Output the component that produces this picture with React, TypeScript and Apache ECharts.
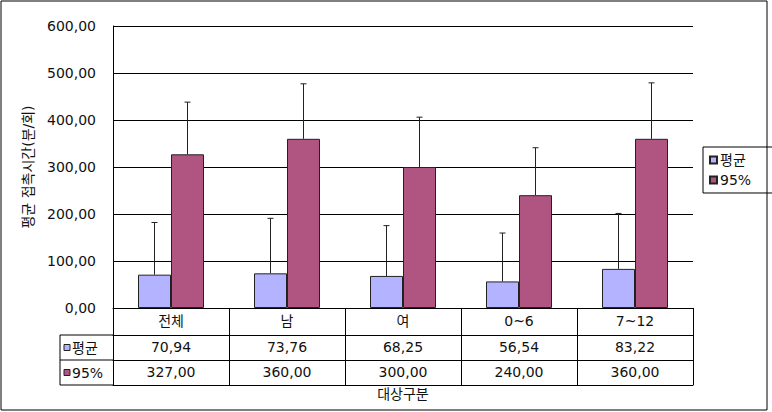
import { useEffect, useRef } from "react";
import * as echarts from "echarts";

const categories = ["전체", "남", "여", "0~6", "7~12"];
const seriesNames = ["평균", "95%"];
const meanValues = [70.94, 73.76, 68.25, 56.54, 83.22];
const p95Values = [327.0, 360.0, 300.0, 240.0, 360.0];
const meanErr = [111, 117, 107, 103, 118];
const p95Err = [111, 117, 106, 101, 119];
const yAxisTitle = "평균 접촉시간(분/회)";
const xAxisTitle = "대상구분";

const colors = ["#B3B3FF", "#B05482"];
const W = 772;
const H = 412;
const GL = 113;
const GR = 693;
const GT = 26;
const GB = 308;
const ROW1 = 27;
const ROW = 25;
const BAR_W = 33;
const FONT = "DejaVu Sans, 'Noto Sans CJK KR', sans-serif";

const fmt = (v: number) => v.toFixed(2).replace(".", ",");

export default function App() {
  const ref = useRef<HTMLDivElement>(null);
  useEffect(() => {
    if (!ref.current) return;
    const chart = echarts.init(ref.current, null, { renderer: "svg" });
    const valueRows = [meanValues, p95Values];
    const errRows = [meanErr, p95Err];

    const errSeries = valueRows.map((vals, si) => ({
      type: "custom",
      name: seriesNames[si] + "-err",
      xAxisIndex: 0,
      yAxisIndex: 0,
      z: 5,
      data: vals.map((v, i) => [i, v, errRows[si][i]]),
      renderItem: (params: any, api: any) => {
        const idx = api.value(0);
        const v = api.value(1);
        const e = api.value(2);
        const base = api.coord([idx, v]);
        const top = api.coord([idx, v + e]);
        const x = base[0] + (si === 0 ? -BAR_W / 2 : BAR_W / 2);
        const style = { stroke: "#222", lineWidth: 1 };
        return {
          type: "group",
          children: [
            { type: "line", shape: { x1: x, y1: base[1], x2: x, y2: top[1] }, style },
            { type: "line", shape: { x1: x - 3, y1: top[1], x2: x + 3, y2: top[1] }, style },
          ],
        };
      },
    }));

    const barSeries = valueRows.map((vals, si) => ({
      type: "bar",
      name: seriesNames[si],
      xAxisIndex: 0,
      yAxisIndex: 0,
      data: vals,
      barWidth: BAR_W,
      barGap: "0%",
      itemStyle: { color: colors[si], borderColor: "#222", borderWidth: 1 },
    }));

    const axisBase = {
      type: "category",
      position: "bottom",
      gridIndex: 0,
      boundaryGap: true,
      axisLine: { show: true, onZero: false, lineStyle: { color: "#000", width: 1 } },
      splitLine: { show: false },
    };

    const rowTop1 = GB + ROW1;
    const rowTop2 = rowTop1 + ROW;
    const rowBottom = rowTop2 + ROW;
    const hdrLeft = 60;

    const headerGraphics: any[] = [
      { type: "line", shape: { x1: hdrLeft, y1: rowTop1, x2: GL, y2: rowTop1 }, style: { stroke: "#000", lineWidth: 1 } },
      { type: "line", shape: { x1: hdrLeft, y1: rowTop2, x2: GL, y2: rowTop2 }, style: { stroke: "#000", lineWidth: 1 } },
      { type: "line", shape: { x1: hdrLeft, y1: rowBottom, x2: GL, y2: rowBottom }, style: { stroke: "#000", lineWidth: 1 } },
      { type: "line", shape: { x1: hdrLeft, y1: rowTop1, x2: hdrLeft, y2: rowBottom }, style: { stroke: "#000", lineWidth: 1 } },
    ];
    seriesNames.forEach((n, si) => {
      const cy = rowTop1 + ROW * si + ROW / 2;
      headerGraphics.push({
        type: "rect",
        shape: { x: 64, y: cy - 3, width: 6, height: 6 },
        style: { fill: colors[si], stroke: "#222", lineWidth: 1 },
      });
      headerGraphics.push({
        type: "text",
        x: 72,
        y: cy,
        style: { text: n, fill: "#111", font: `14px ${FONT}`, verticalAlign: "middle", align: "left" },
      });
    });
    headerGraphics.push({
      type: "rect",
      shape: { x: 1, y: 1, width: 766, height: 409 },
      style: { fill: "none", stroke: "#000", lineWidth: 1 },
      silent: true,
    });

    chart.setOption({
      animation: false,
      backgroundColor: "#fff",
      textStyle: { fontFamily: FONT },
      grid: { left: GL, right: W - GR, top: GT, bottom: H - GB, containLabel: false },
      legend: {
        data: seriesNames,
        orient: "vertical",
        left: 703,
        top: 147,
        borderColor: "#000",
        borderWidth: 1,
        borderRadius: 0,
        padding: [6, 24, 6, 6],
        itemGap: 6,
        itemWidth: 7,
        itemHeight: 7,
        icon: "rect",
        textStyle: { fontSize: 14, color: "#111", fontFamily: FONT, padding: [0, 0, 0, -2] },
      },
      xAxis: [
        {
          ...axisBase,
          data: categories,
          offset: 0,
          axisTick: { show: true, inside: false, length: ROW1, lineStyle: { color: "#000" } },
          axisLabel: { interval: 0, margin: 6, fontSize: 14, color: "#111", fontFamily: FONT },
        },
        {
          ...axisBase,
          data: meanValues.map(fmt),
          offset: ROW1,
          axisTick: { show: true, inside: false, length: ROW, lineStyle: { color: "#000" } },
          axisLabel: { interval: 0, margin: 5, fontSize: 14, color: "#111", fontFamily: FONT },
        },
        {
          ...axisBase,
          data: p95Values.map(fmt),
          offset: ROW1 + ROW,
          axisTick: { show: true, inside: false, length: ROW, lineStyle: { color: "#000" } },
          axisLabel: { interval: 0, margin: 5, fontSize: 14, color: "#111", fontFamily: FONT },
        },
        {
          ...axisBase,
          data: categories,
          offset: ROW1 + 2 * ROW,
          axisTick: { show: false },
          axisLabel: { show: false },
          name: xAxisTitle,
          nameLocation: "middle",
          nameGap: 2,
          nameTextStyle: { fontSize: 14, color: "#111", fontFamily: FONT, verticalAlign: "top" },
        },
      ],
      yAxis: {
        type: "value",
        min: 0,
        max: 600,
        interval: 100,
        axisLine: { show: true, lineStyle: { color: "#000", width: 1 } },
        axisTick: { show: false },
        splitLine: { show: true, lineStyle: { color: "#000", width: 1 } },
        axisLabel: { formatter: (v: number) => fmt(v), fontSize: 14, color: "#111", margin: 17, fontFamily: FONT },
        name: yAxisTitle,
        nameLocation: "middle",
        nameRotate: 90,
        nameGap: 78,
        nameTextStyle: { fontSize: 14, color: "#111", fontFamily: FONT },
      },
      series: [...barSeries, ...errSeries],
      graphic: headerGraphics,
    });
    return () => chart.dispose();
  }, []);
  return (
    <div
      ref={ref}
      style={{ position: "fixed", left: 0, top: 0, width: W, height: H, background: "#fff" }}
    />
  );
}
